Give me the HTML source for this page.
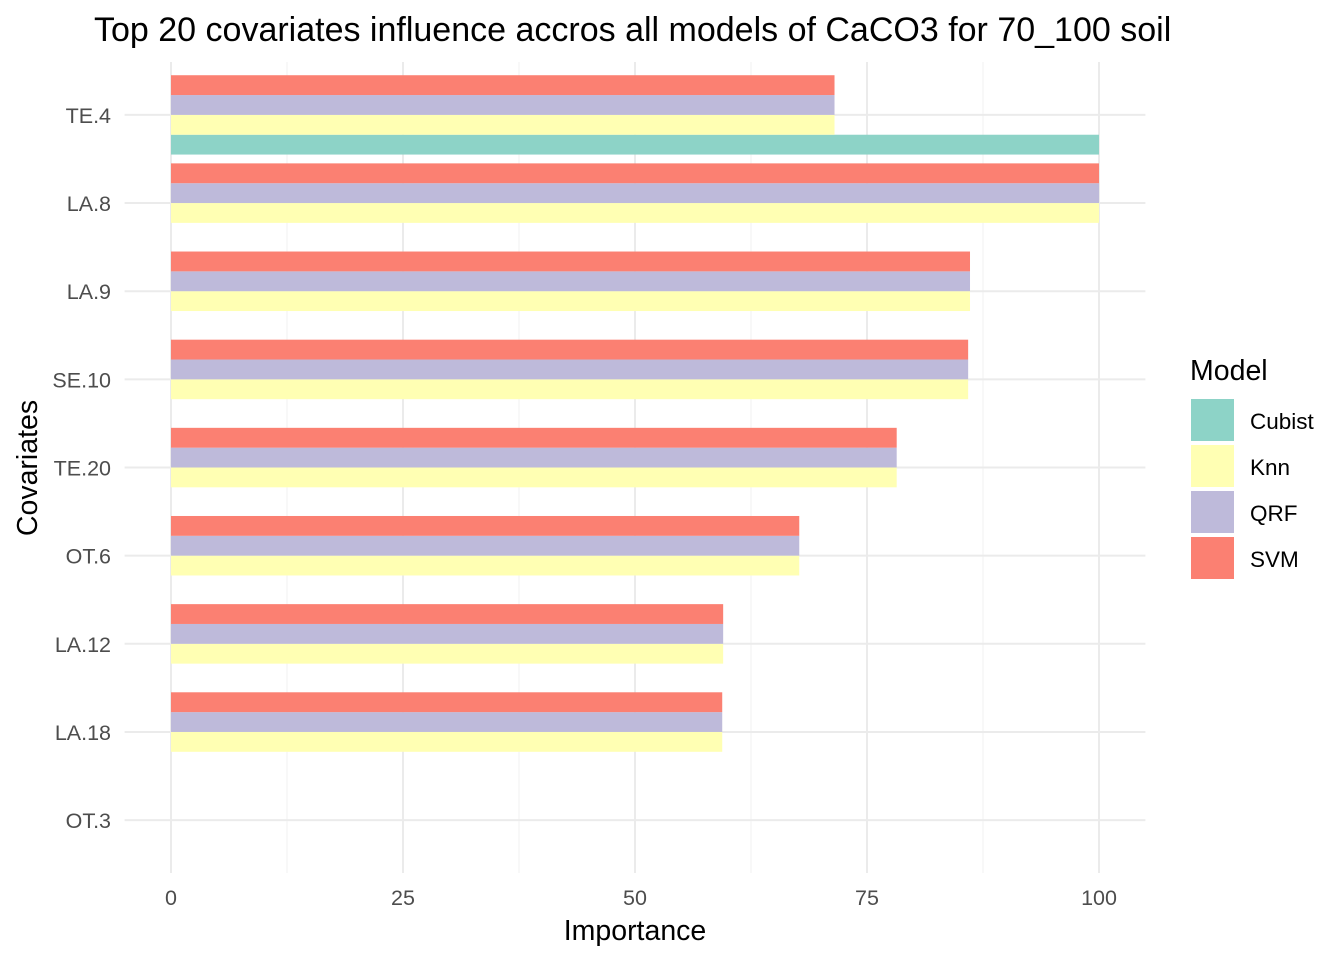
<!DOCTYPE html>
<html><head><meta charset="utf-8"><style>
html,body{margin:0;padding:0;background:#fff;}
svg{display:block;font-family:"Liberation Sans",Arial,sans-serif;}
</style></head><body>
<svg id="chart" width="1344" height="960" xmlns="http://www.w3.org/2000/svg">
<text x="94" y="41" font-size="34" fill="#000">Top 20 covariates influence accros all models of CaCO3 for 70_100 soil</text>
<g id="grid"></g>
<g id="bars"></g>
<g id="axes"></g>
<text x="635" y="940" font-size="28.5" text-anchor="middle" fill="#000">Importance</text>
<text transform="translate(37,468) rotate(-90)" font-size="28.5" text-anchor="middle" fill="#000">Covariates</text>
<g id="legend">
<text x="1190" y="380" font-size="28.5" fill="#000">Model</text>
</g>
</svg>
<script>
const categories = ["TE.4","LA.8","LA.9","SE.10","TE.20","OT.6","LA.12","LA.18","OT.3"];
const models = ["Cubist","Knn","QRF","SVM"];
const cubist = [100,0,0,0,0,0,0,0,0];
const knn = [71.5,100,86.1,85.9,78.2,67.7,59.5,59.4,0];
const qrf = [71.5,100,86.1,85.9,78.2,67.7,59.5,59.4,0];
const svm = [71.5,100,86.1,85.9,78.2,67.7,59.5,59.4,0];
const xTicks = [0,25,50,75,100];
const colors = ["#8DD3C7","#FFFFB3","#BEBADA","#FB8072"];

const NS="http://www.w3.org/2000/svg";
const x0=124.6,x1=1145.4,y0=62,y1=873;
const xs=v=>x0+(v+5)/110*(x1-x0);
const step=(y1-y0)/(categories.length+0.2);
const yc=i=>y0+(0.6+i)*step;
function mk(tag,attrs,parent){const e=document.createElementNS(NS,tag);for(const k in attrs)e.setAttribute(k,attrs[k]);parent.appendChild(e);return e;}
const grid=document.getElementById('grid'),bars=document.getElementById('bars'),axes=document.getElementById('axes'),legend=document.getElementById('legend');
for(let i=0;i<xTicks.length-1;i++){const m=(xTicks[i]+xTicks[i+1])/2;
 const l=mk('line',{x1:xs(m),x2:xs(m),y1:y0,y2:y1,stroke:'#F2F2F2','stroke-width':1},grid);
 
 }
xTicks.forEach(t=>{const l=mk('line',{x1:xs(t),x2:xs(t),y1:y0,y2:y1,stroke:'#EBEBEB','stroke-width':2},grid);
 
 
 const tx=mk('text',{x:xs(t),y:905,'font-size':21.5,'text-anchor':'middle',fill:'#4D4D4D'},axes);tx.textContent=t;
 
 });
categories.forEach((c,i)=>{const l=mk('line',{x1:x0,x2:x1,y1:yc(i),y2:yc(i),stroke:'#EBEBEB','stroke-width':2},grid);
 
 
 const tx=mk('text',{x:111,y:yc(i)+8,'font-size':21.5,'text-anchor':'end',fill:'#4D4D4D'},axes);tx.textContent=c;
 
 });
const series=[cubist,knn,qrf,svm];
const bw=step*0.9/4;
categories.forEach((c,i)=>{series.forEach((s,k)=>{const v=s[i];if(!v)return;
 const top=yc(i)+step*0.45-(k+1)*bw;
 const r=mk('rect',{x:xs(0),y:top,width:xs(v)-xs(0),height:bw,fill:colors[k]},bars);
 
 });});
models.forEach((m,k)=>{const y=399+k*46;
 const r=mk('rect',{x:1191,y:y,width:43,height:42,fill:colors[k]},legend);
 
 
 const t=mk('text',{x:1250,y:y+30,'font-size':22.5,fill:'#000'},legend);t.textContent=m;
 
 });
</script>
</body></html>
